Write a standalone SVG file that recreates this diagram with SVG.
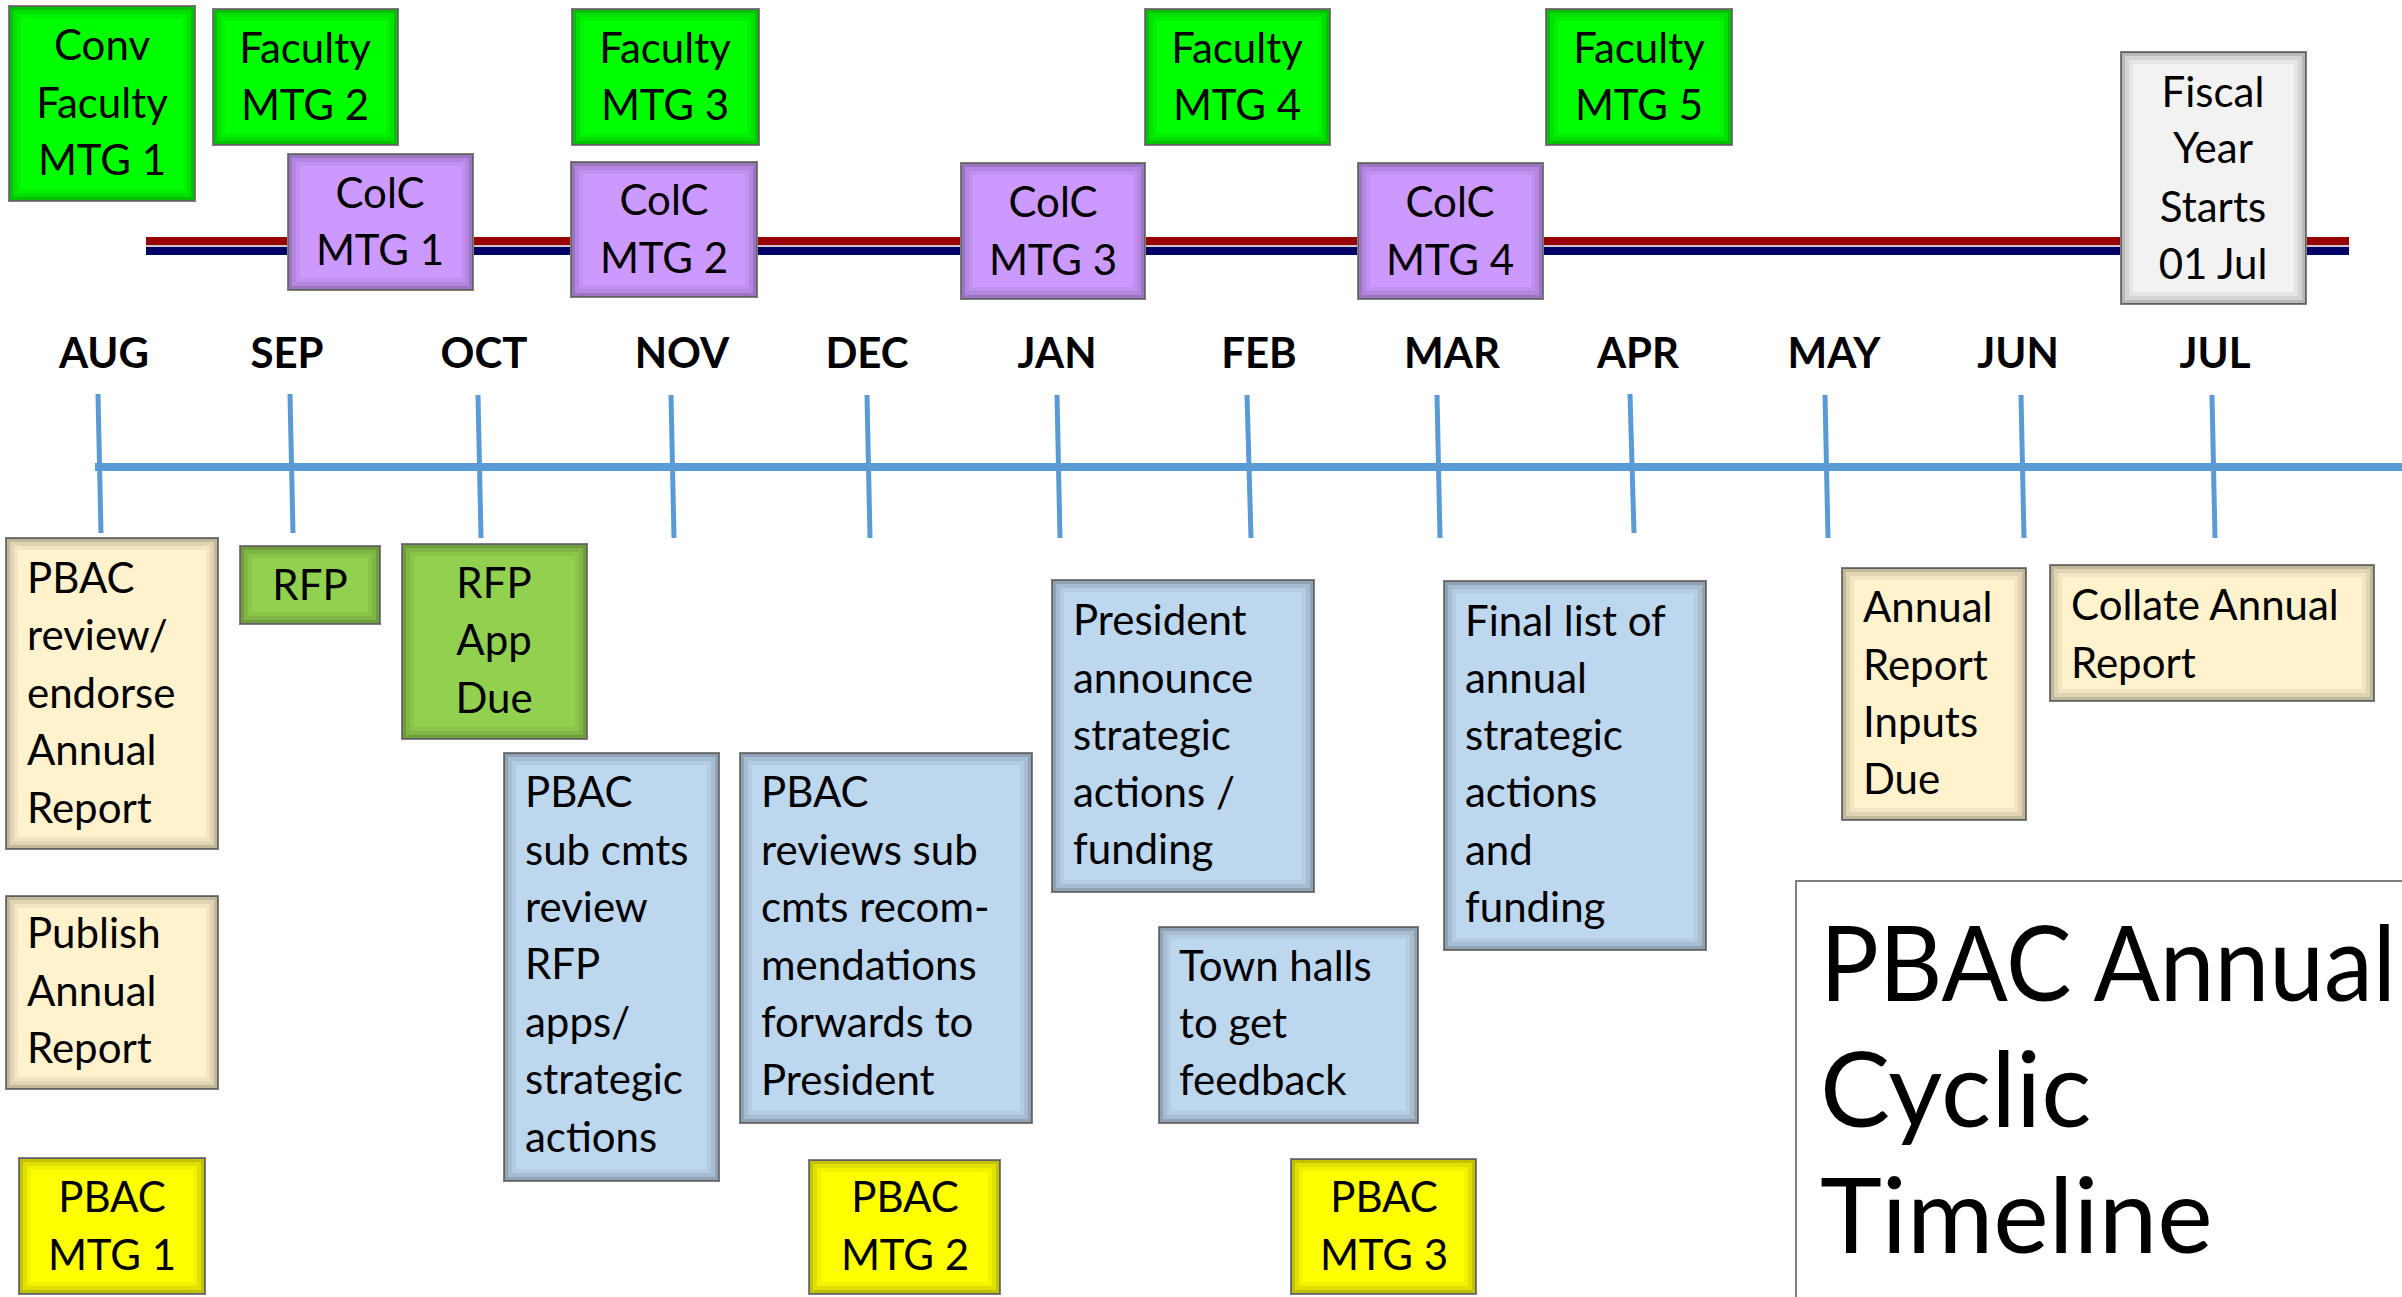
<svg xmlns="http://www.w3.org/2000/svg" width="2402" height="1297" viewBox="0 0 2402 1297">
<style>
text{font-family:Lato,"Open Sans","Liberation Sans",sans-serif;font-size:42px;fill:#000}
.c{text-anchor:middle}
.mo{font-weight:bold;text-anchor:middle}
.tt{font-size:105px}
.bx{stroke:#808080;stroke-width:2}
.s1{fill:none;stroke:#000;stroke-opacity:0.24;stroke-width:4}
.s2{fill:none;stroke:#000;stroke-opacity:0.12;stroke-width:4}
.s3{fill:none;stroke:#000;stroke-opacity:0.05;stroke-width:4}
.gr{fill:#00FF00}
.pu{fill:#CC99FF}
.fy{fill:#F2F2F2}
.be{fill:#FFF2CC}
.lg{fill:#92D050}
.bl{fill:#BDD7EE}
.ye{fill:#FFFF00}
.tick{stroke:#5B9BD5;stroke-width:5}
</style>
<rect width="2402" height="1297" fill="#fff"/>
<g id="connectors">
<rect x="146" y="237" width="2203" height="18" fill="#C8C8C8"/>
<rect x="146" y="237" width="2203" height="8" fill="#990000"/>
<rect x="146" y="247" width="2203" height="8" fill="#000066"/>
<line x1="95" y1="467" x2="2402" y2="467" stroke="#5B9BD5" stroke-width="8"/>
<line class="tick" x1="98" y1="394" x2="101" y2="533"/>
<line class="tick" x1="290" y1="394" x2="293" y2="533"/>
<line class="tick" x1="478" y1="395" x2="481" y2="538"/>
<line class="tick" x1="671" y1="395" x2="674" y2="538"/>
<line class="tick" x1="867" y1="395" x2="870" y2="538"/>
<line class="tick" x1="1057" y1="395" x2="1060" y2="538"/>
<line class="tick" x1="1247" y1="395" x2="1251" y2="538"/>
<line class="tick" x1="1437" y1="395" x2="1440" y2="538"/>
<line class="tick" x1="1630" y1="394" x2="1634" y2="533"/>
<line class="tick" x1="1825" y1="395" x2="1828" y2="538"/>
<line class="tick" x1="2021" y1="395" x2="2024" y2="538"/>
<line class="tick" x1="2212" y1="395" x2="2215" y2="538"/>
</g>
<g id="months">
<text class="mo" x="104" y="368">AUG</text>
<text class="mo" x="287" y="368">SEP</text>
<text class="mo" x="484" y="368">OCT</text>
<text class="mo" x="682" y="368">NOV</text>
<text class="mo" x="867" y="368">DEC</text>
<text class="mo" x="1057" y="368">JAN</text>
<text class="mo" x="1259" y="368">FEB</text>
<text class="mo" x="1452" y="368">MAR</text>
<text class="mo" x="1638" y="368">APR</text>
<text class="mo" x="1834" y="368">MAY</text>
<text class="mo" x="2018" y="368">JUN</text>
<text class="mo" x="2215" y="368">JUL</text>
</g>
<g id="conv-faculty-1"><rect class="bx gr" x="9" y="6" width="186" height="195"/>
<rect class="s1" x="11" y="8" width="182" height="191"/><rect class="s2" x="15" y="12" width="174" height="183"/><rect class="s3" x="19" y="16" width="166" height="175"/>
<text class="c" x="102" y="60">Conv</text><text class="c" x="102" y="118">Faculty</text><text class="c" x="102" y="175">MTG 1</text></g>
<g id="faculty-2"><rect class="bx gr" x="213" y="9" width="185" height="136"/>
<rect class="s1" x="215" y="11" width="181" height="132"/><rect class="s2" x="219" y="15" width="173" height="124"/><rect class="s3" x="223" y="19" width="165" height="116"/>
<text class="c" x="305" y="63">Faculty</text><text class="c" x="305" y="120">MTG 2</text></g>
<g id="faculty-3"><rect class="bx gr" x="572" y="9" width="187" height="136"/>
<rect class="s1" x="574" y="11" width="183" height="132"/><rect class="s2" x="578" y="15" width="175" height="124"/><rect class="s3" x="582" y="19" width="167" height="116"/>
<text class="c" x="665" y="63">Faculty</text><text class="c" x="665" y="120">MTG 3</text></g>
<g id="faculty-4"><rect class="bx gr" x="1145" y="9" width="185" height="136"/>
<rect class="s1" x="1147" y="11" width="181" height="132"/><rect class="s2" x="1151" y="15" width="173" height="124"/><rect class="s3" x="1155" y="19" width="165" height="116"/>
<text class="c" x="1237" y="63">Faculty</text><text class="c" x="1237" y="120">MTG 4</text></g>
<g id="faculty-5"><rect class="bx gr" x="1546" y="9" width="186" height="136"/>
<rect class="s1" x="1548" y="11" width="182" height="132"/><rect class="s2" x="1552" y="15" width="174" height="124"/><rect class="s3" x="1556" y="19" width="166" height="116"/>
<text class="c" x="1639" y="63">Faculty</text><text class="c" x="1639" y="120">MTG 5</text></g>
<g id="colc-1"><rect class="bx pu" x="288" y="154" width="185" height="136"/>
<rect class="s1" x="290" y="156" width="181" height="132"/><rect class="s2" x="294" y="160" width="173" height="124"/><rect class="s3" x="298" y="164" width="165" height="116"/>
<text class="c" x="380" y="208">ColC</text><text class="c" x="380" y="265">MTG 1</text></g>
<g id="colc-2"><rect class="bx pu" x="571" y="162" width="186" height="135"/>
<rect class="s1" x="573" y="164" width="182" height="131"/><rect class="s2" x="577" y="168" width="174" height="123"/><rect class="s3" x="581" y="172" width="166" height="115"/>
<text class="c" x="664" y="215">ColC</text><text class="c" x="664" y="273">MTG 2</text></g>
<g id="colc-3"><rect class="bx pu" x="961" y="163" width="184" height="136"/>
<rect class="s1" x="963" y="165" width="180" height="132"/><rect class="s2" x="967" y="169" width="172" height="124"/><rect class="s3" x="971" y="173" width="164" height="116"/>
<text class="c" x="1053" y="217">ColC</text><text class="c" x="1053" y="275">MTG 3</text></g>
<g id="colc-4"><rect class="bx pu" x="1358" y="163" width="185" height="136"/>
<rect class="s1" x="1360" y="165" width="181" height="132"/><rect class="s2" x="1364" y="169" width="173" height="124"/><rect class="s3" x="1368" y="173" width="165" height="116"/>
<text class="c" x="1450" y="217">ColC</text><text class="c" x="1450" y="275">MTG 4</text></g>
<g id="fiscal-year"><rect class="bx fy" x="2121" y="52" width="185" height="252"/>
<rect class="s1" x="2123" y="54" width="181" height="248"/><rect class="s2" x="2127" y="58" width="173" height="240"/><rect class="s3" x="2131" y="62" width="165" height="232"/>
<text class="c" x="2213" y="107">Fiscal</text><text class="c" x="2213" y="163">Year</text><text class="c" x="2213" y="222">Starts</text><text class="c" x="2213" y="279">01 Jul</text></g>
<g id="pbac-review"><rect class="bx be" x="6" y="538" width="212" height="311"/>
<rect class="s1" x="8" y="540" width="208" height="307"/><rect class="s2" x="12" y="544" width="200" height="299"/><rect class="s3" x="16" y="548" width="192" height="291"/>
<text x="27" y="593">PBAC</text><text x="27" y="650">review/</text><text x="27" y="708">endorse</text><text x="27" y="765">Annual</text><text x="27" y="823">Report</text></g>
<g id="rfp"><rect class="bx lg" x="240" y="546" width="140" height="78"/>
<rect class="s1" x="242" y="548" width="136" height="74"/><rect class="s2" x="246" y="552" width="128" height="66"/><rect class="s3" x="250" y="556" width="120" height="58"/>
<text class="c" x="310" y="600">RFP</text></g>
<g id="rfp-app-due"><rect class="bx lg" x="402" y="544" width="185" height="195"/>
<rect class="s1" x="404" y="546" width="181" height="191"/><rect class="s2" x="408" y="550" width="173" height="183"/><rect class="s3" x="412" y="554" width="165" height="175"/>
<text class="c" x="494" y="598">RFP</text><text class="c" x="494" y="655">App</text><text class="c" x="494" y="713">Due</text></g>
<g id="sub-cmts"><rect class="bx bl" x="504" y="753" width="215" height="428"/>
<rect class="s1" x="506" y="755" width="211" height="424"/><rect class="s2" x="510" y="759" width="203" height="416"/><rect class="s3" x="514" y="763" width="195" height="408"/>
<text x="525" y="807">PBAC</text><text x="525" y="865">sub cmts</text><text x="525" y="922">review</text><text x="525" y="979">RFP</text><text x="525" y="1037">apps/</text><text x="525" y="1094">strategic</text><text x="525" y="1152">actions</text></g>
<g id="pbac-reviews"><rect class="bx bl" x="740" y="753" width="292" height="370"/>
<rect class="s1" x="742" y="755" width="288" height="366"/><rect class="s2" x="746" y="759" width="280" height="358"/><rect class="s3" x="750" y="763" width="272" height="350"/>
<text x="761" y="807">PBAC</text><text x="761" y="865">reviews sub</text><text x="761" y="922">cmts recom-</text><text x="761" y="980">mendations</text><text x="761" y="1037">forwards to</text><text x="761" y="1095">President</text></g>
<g id="president"><rect class="bx bl" x="1052" y="580" width="262" height="312"/>
<rect class="s1" x="1054" y="582" width="258" height="308"/><rect class="s2" x="1058" y="586" width="250" height="300"/><rect class="s3" x="1062" y="590" width="242" height="292"/>
<text x="1073" y="635">President</text><text x="1073" y="693">announce</text><text x="1073" y="750">strategic</text><text x="1073" y="807">actions /</text><text x="1073" y="864">funding</text></g>
<g id="town-halls"><rect class="bx bl" x="1159" y="927" width="259" height="196"/>
<rect class="s1" x="1161" y="929" width="255" height="192"/><rect class="s2" x="1165" y="933" width="247" height="184"/><rect class="s3" x="1169" y="937" width="239" height="176"/>
<text x="1179" y="981">Town halls</text><text x="1179" y="1038">to get</text><text x="1179" y="1095">feedback</text></g>
<g id="final-list"><rect class="bx bl" x="1444" y="581" width="262" height="369"/>
<rect class="s1" x="1446" y="583" width="258" height="365"/><rect class="s2" x="1450" y="587" width="250" height="357"/><rect class="s3" x="1454" y="591" width="242" height="349"/>
<text x="1465" y="636">Final list of</text><text x="1465" y="693">annual</text><text x="1465" y="750">strategic</text><text x="1465" y="807">actions</text><text x="1465" y="865">and</text><text x="1465" y="922">funding</text></g>
<g id="inputs-due"><rect class="bx be" x="1842" y="568" width="184" height="252"/>
<rect class="s1" x="1844" y="570" width="180" height="248"/><rect class="s2" x="1848" y="574" width="172" height="240"/><rect class="s3" x="1852" y="578" width="164" height="232"/>
<text x="1863" y="622">Annual</text><text x="1863" y="680">Report</text><text x="1863" y="737">Inputs</text><text x="1863" y="794">Due</text></g>
<g id="collate"><rect class="bx be" x="2050" y="565" width="324" height="136"/>
<rect class="s1" x="2052" y="567" width="320" height="132"/><rect class="s2" x="2056" y="571" width="312" height="124"/><rect class="s3" x="2060" y="575" width="304" height="116"/>
<text x="2071" y="620">Collate Annual</text><text x="2071" y="678">Report</text></g>
<g id="publish"><rect class="bx be" x="6" y="896" width="212" height="193"/>
<rect class="s1" x="8" y="898" width="208" height="189"/><rect class="s2" x="12" y="902" width="200" height="181"/><rect class="s3" x="16" y="906" width="192" height="173"/>
<text x="27" y="948">Publish</text><text x="27" y="1006">Annual</text><text x="27" y="1063">Report</text></g>
<g id="pbac-1"><rect class="bx ye" x="19" y="1158" width="186" height="136"/>
<rect class="s1" x="21" y="1160" width="182" height="132"/><rect class="s2" x="25" y="1164" width="174" height="124"/><rect class="s3" x="29" y="1168" width="166" height="116"/>
<text class="c" x="112" y="1212">PBAC</text><text class="c" x="112" y="1270">MTG 1</text></g>
<g id="pbac-2"><rect class="bx ye" x="809" y="1160" width="191" height="134"/>
<rect class="s1" x="811" y="1162" width="187" height="130"/><rect class="s2" x="815" y="1166" width="179" height="122"/><rect class="s3" x="819" y="1170" width="171" height="114"/>
<text class="c" x="905" y="1212">PBAC</text><text class="c" x="905" y="1270">MTG 2</text></g>
<g id="pbac-3"><rect class="bx ye" x="1291" y="1159" width="185" height="135"/>
<rect class="s1" x="1293" y="1161" width="181" height="131"/><rect class="s2" x="1297" y="1165" width="173" height="123"/><rect class="s3" x="1301" y="1169" width="165" height="115"/>
<text class="c" x="1384" y="1212">PBAC</text><text class="c" x="1384" y="1270">MTG 3</text></g>
<g id="title"><rect x="1796" y="881" width="700" height="500" fill="#fff" stroke="#808080" stroke-width="2"/>
<text class="tt" x="1820" y="1001" textLength="576" lengthAdjust="spacingAndGlyphs">PBAC Annual</text><text class="tt" x="1820" y="1127">Cyclic</text><text class="tt" x="1820" y="1253">Timeline</text></g>
</svg>
